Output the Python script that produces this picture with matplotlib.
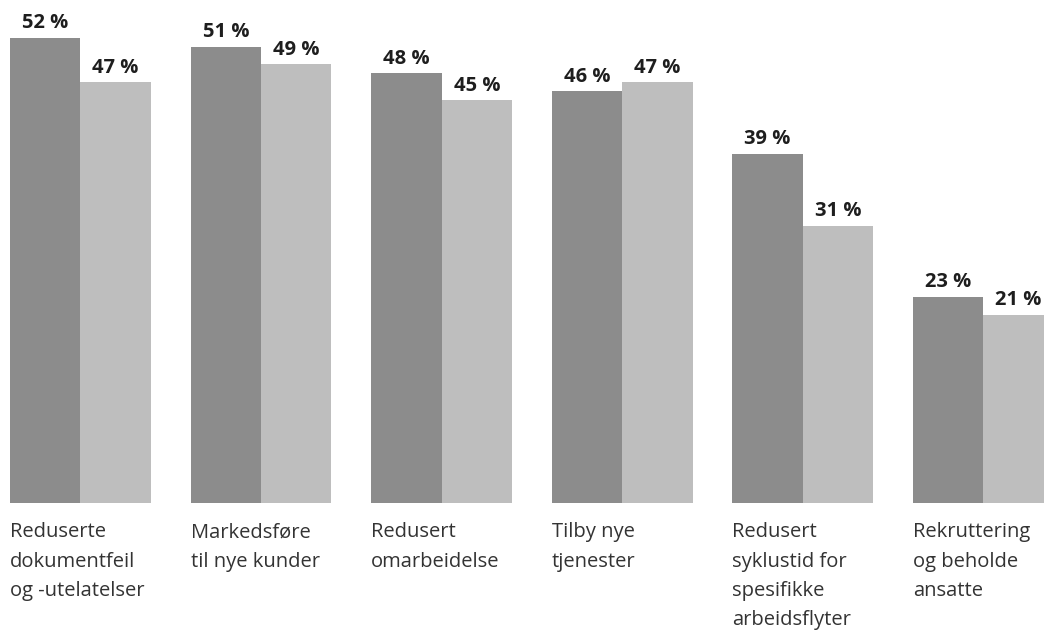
import matplotlib
matplotlib.use('Agg')
import matplotlib.pyplot as plt
import numpy as np

plt.rcParams['font.family'] = ['Open Sans', 'DejaVu Sans']

categories = ['Reduserte\ndokumentfeil\nog -utelatelser',
              'Markedsføre\ntil nye kunder',
              'Redusert\nomarbeidelse',
              'Tilby nye\ntjenester',
              'Redusert\nsyklustid for\nspesifikke\narbeidsflyter',
              'Rekruttering\nog beholde\nansatte']
serie_a = [52, 51, 48, 46, 39, 23]
serie_b = [47, 49, 45, 47, 31, 21]

dark = '#8c8c8c'
light = '#bebebe'
w = 0.39

fig = plt.figure(figsize=(10.44, 6.35), dpi=100)
ax = fig.add_axes([0, 132/635, 1, 503/635])

x = np.arange(len(categories))
ax.bar(x - w/2, serie_a, width=w, color=dark)
ax.bar(x + w/2, serie_b, width=w, color=light)

for xi, a, b in zip(x, serie_a, serie_b):
    ax.annotate(f'{a} %', (xi - w/2, a), xytext=(0, 7), textcoords='offset points',
                ha='center', va='baseline', fontsize=14.5, fontweight='bold', color='#1e1e1e')
    ax.annotate(f'{b} %', (xi + w/2, b), xytext=(0, 7), textcoords='offset points',
                ha='center', va='baseline', fontsize=14.5, fontweight='bold', color='#1e1e1e')

for xi, cat in zip(x, categories):
    ax.annotate(cat, (xi - w, 0), xycoords=('data', 'axes fraction'),
                xytext=(0, -14), textcoords='offset points',
                ha='left', va='top', fontsize=14.5, color='#333333', linespacing=1.62)

ax.set_xlim(-w - 10/180.6, -w - 10/180.6 + 1044/180.6)
ax.set_ylim(0, 503/8.95)
ax.axis('off')

fig.savefig('out.png', dpi=100)
